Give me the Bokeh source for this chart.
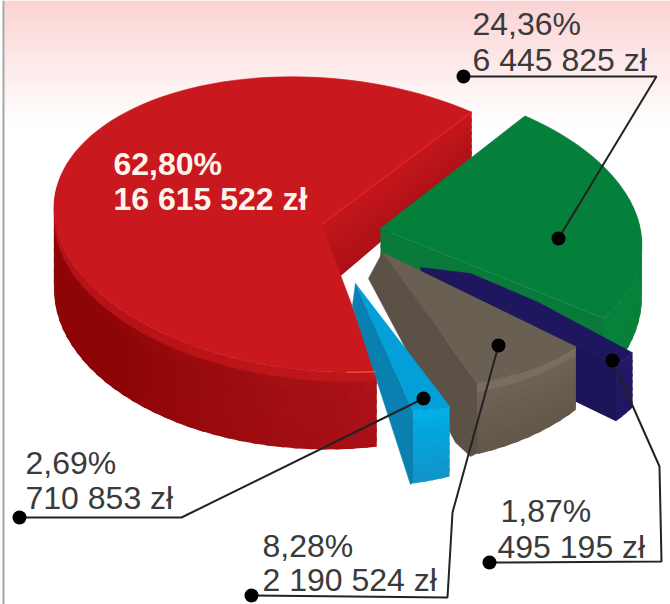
import numpy as np
from bokeh.plotting import figure
from bokeh.models import ColumnDataSource, Range1d
from bokeh.core.properties import value
from bokeh.embed import file_html
from bokeh.resources import INLINE

# ---- data ----
names = ["red", "blue", "brown", "purple", "green"]
percent = [62.80, 2.69, 8.28, 1.87, 24.36]
percent_labels = ["62,80%", "2,69%", "8,28%", "1,87%", "24,36%"]
amount_labels = ["16 615 522 zł", "710 853 zł", "2 190 524 zł", "495 195 zł", "6 445 825 zł"]

# ---- layout of the exploded 3D pie, in reference pixels ----
START = 50.0
RY, SHEAR = 150.0, 0.2
RX = [270.0, 265.0, 265.0, 265.0, 265.0]
apex_x = [321, 355, 382, 420, 380]
apex_y = [224, 283, 252, 267, 228]
radius = [0.985, 0.86, 0.91, 0.93, 0.98]
turn = [-0.5, 2.0, 0.8, 0.0, 0.0]
depth_scale = [1.0, 0.95, 1.0, 0.9, 1.0]
wall_path = [None,
             [(414, 481), (410, 484), (352, 305)],
             [(478, 452), (470, 456), (455, 442), (368, 278)],
             None,
             None]
top_extra = [[], [], [], [(538, 302), (470, 273)], []]
tops = ["#c9181e", "#029fd8", "#6a5f53", "#1f1660", "#04803a"]
walls = [("#c4161c", "#ab1116"), ("#0a80b0", "#0a80b0"), ("#5b5146", "#5b5146"),
         ("#1c1459", "#1c1459"), ("#0a7a3a", "#0a7a3a")]
side_top = ["#c9181e", "#05b2ec", "#7f7364", "#251b6a", "#05813a"]
side_mid = ["#950709", "#02a8e2", "#6c6155", "#221866", "#06833b"]
side_low = ["#a01014", "#1295c8", "#635749", "#201660", "#0a7f3a"]

label_x = [113, 25, 262, 497, 472]
first_base = [175, 474, 557, 522, 35]
second_base = [210, 509, 591, 558, 71]
label_col = ["#fff4ec", "#3a3a3a", "#3a3a3a", "#3a3a3a", "#3a3a3a"]
label_style = ["bold", "normal", "normal", "normal", "normal"]
leader_x = [[19, 181, 423], [251, 447, 452, 498], [489, 661, 659, 612], [463, 656, 558]]
leader_y = [[517, 517, 398], [595, 597, 512, 345], [562, 561, 466, 360], [76, 76, 238]]


def mix(a, b, t):
    ca = np.array([int(a[i:i + 2], 16) for i in (1, 3, 5)], float)
    cb = np.array([int(b[i:i + 2], 16) for i in (1, 3, 5)], float)
    c = ca + (cb - ca) * float(np.clip(t, 0, 1))
    return "#%02x%02x%02x" % tuple(int(round(v)) for v in c)


def depth(i, x, y):
    return (68.9 - 0.0518 * x + 0.0696 * y) * depth_scale[i]


def rim(i, deg):
    t = np.radians(deg)
    gx = RX[i] * radius[i] * np.cos(t)
    gy = -RY * radius[i] * np.sin(t)
    return apex_x[i] + gx + SHEAR * gy, apex_y[i] + gy


xs, ys, cols, edge_alpha = [], [], [], []


def add(px, py, c, stroke=0.0):
    xs.append(list(map(float, px)))
    ys.append(list(map(float, py)))
    cols.append(c)
    edge_alpha.append(stroke)


# background: pink fade and window edge
for y0 in range(0, 125, 5):
    add([4, 670, 670, 4], [y0, y0, y0 + 6, y0 + 6], mix("#fbd3d3", "#ffffff", y0 / 122))
add([2, 4, 4, 2], [0, 0, 604, 604], "#a4a8a4")


def side_colour(i, deg, z):
    base_mid, base_low = side_mid[i], side_low[i]
    if i == 0:
        k = np.clip((deg - 215) / 60, 0, 1)
        base_mid = mix("#8c0507", "#ab1318", k)
        base_low = mix("#8e0507", "#a91117", k)
    if z < 0.2:
        return mix(side_top[i], base_mid, z / 0.2)
    return mix(base_mid, base_low, (z - 0.2) / 0.8)


bounds = np.cumsum([0] + percent) / sum(percent) * 360 + START
for i in [0, 4, 3, 2, 1]:
    a0 = bounds[i] + turn[i]
    a1 = bounds[i + 1] + turn[i]
    grid = np.linspace(a0, a1, max(int((a1 - a0) / 3), 4) + 1)
    zs = np.linspace(0, 1, 9)
    step = grid[1] - grid[0]
    # the cut wall that faces the viewer
    cx, cy = rim(i, a0)
    ax, ay = apex_x[i], apex_y[i]
    if wall_path[i] is None:
        ha, hc = depth(i, ax, ay), depth(i, cx, cy)
        for z0, z1 in zip(zs[:-1], zs[1:]):
            z2 = min(z1 + 0.05, 1.0)
            add([ax, cx, cx, ax],
                [ay + ha * z0, cy + hc * z0, cy + hc * z2, ay + ha * z2],
                mix(walls[i][0], walls[i][1], (z0 + z1) / 2))
    else:
        add([ax, cx] + [q[0] for q in wall_path[i]],
            [ay, cy] + [q[1] for q in wall_path[i]], walls[i][0], 0.6)
    # outer wall: cells that overlap their neighbours, so no seams show
    for d0, d1 in zip(grid[:-1], grid[1:]):
        if np.sin(np.radians((d0 + d1) / 2)) > 0.25:
            continue
        d2 = min(d1 + step * 0.4, a1)
        x0, y0 = rim(i, d0)
        x1, y1 = rim(i, d2)
        h0, h1 = depth(i, x0, y0), depth(i, x1, y1)
        for z0, z1 in zip(zs[:-1], zs[1:]):
            z2 = min(z1 + 0.05, 1.0)
            add([x0, x1, x1, x0],
                [y0 + h0 * z0, y1 + h1 * z0, y1 + h1 * z2, y0 + h0 * z2],
                side_colour(i, (d0 + d1) / 2, (z0 + z1) / 2))
    # top face
    arc = [rim(i, d) for d in np.linspace(a0, a1, 90)] + top_extra[i]
    add([ax] + [q[0] for q in arc], [ay] + [q[1] for q in arc], tops[i], 0.6)

p = figure(width=670, height=604, output_backend="svg", toolbar_location=None,
           x_range=Range1d(0, 670), y_range=Range1d(604, 0), min_border=0)
p.styles = {"position": "absolute", "left": "0px", "top": "0px"}
p.axis.visible = False
p.grid.visible = False
p.outline_line_color = None
p.background_fill_color = "#ffffff"

src = ColumnDataSource(dict(xs=xs, ys=ys, c=cols, a=edge_alpha))
p.patches("xs", "ys", source=src, fill_color="c", line_color="c", line_alpha="a", line_width=1)

# crisp edges seen on the reference
hx, hy = rim(0, bounds[0] + turn[0])
p.line([apex_x[0], hx], [apex_y[0], hy], line_color="#dd1f22", line_width=2)
edge = [rim(0, d) for d in np.linspace(bounds[1] - 7, bounds[1] + turn[0], 12)]
p.line([q[0] for q in edge], [q[1] for q in edge], line_color="#e8502c", line_width=1.5)

# leaders and their dots
for lx, ly in zip(leader_x, leader_y):
    p.line(lx, ly, line_color="#222222", line_width=2)
    p.scatter([lx[0], lx[-1]], [ly[0], ly[-1]], size=14, marker="circle",
              fill_color="#000000", line_color=None)

for i in range(len(names)):
    x = label_x[i] + (3 if i == 3 else 0)
    p.text([x], [first_base[i]], text=[percent_labels[i]], text_font=value("Liberation Sans"),
           text_font_size="32px", text_color=label_col[i], text_font_style=label_style[i],
           text_baseline="alphabetic", y_offset=-12)
    p.text([label_x[i]], [second_base[i]], text=[amount_labels[i]], text_font=value("Liberation Sans"),
           text_font_size="32px", text_color=label_col[i], text_font_style=label_style[i],
           text_baseline="alphabetic", y_offset=-12)

open("out.html", "w").write(file_html(p, INLINE))
